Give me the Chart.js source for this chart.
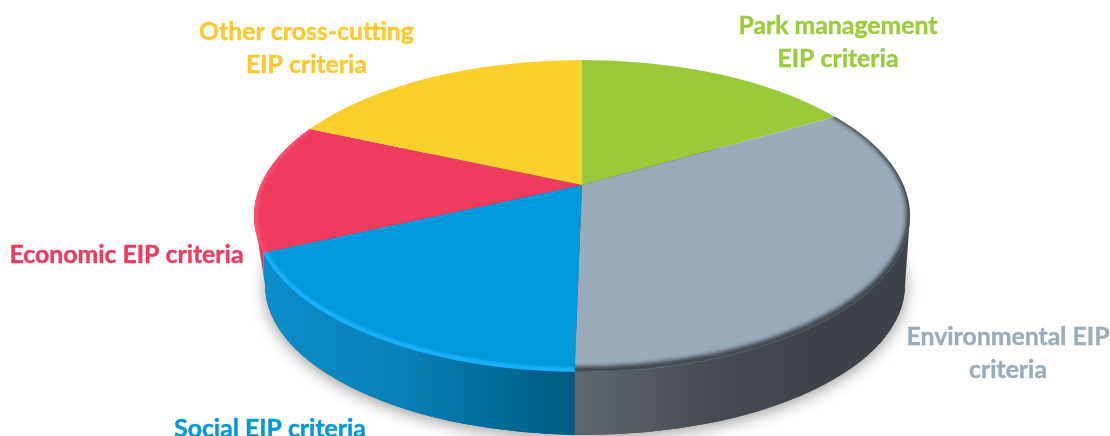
<!DOCTYPE html>
<html>
<head>
<meta charset="utf-8">
<style>
html, body { margin: 0; padding: 0; background: #fff; overflow: hidden; }
canvas { display: block; }
</style>
<script src="https://cdn.jsdelivr.net/npm/chart.js@4/dist/chart.umd.min.js"></script>
</head>
<body>
<canvas id="chart" width="1110" height="436"></canvas>
<script>
// clockwise from 12 o'clock
const categories = ["Park management EIP criteria", "Environmental EIP criteria", "Social EIP criteria", "Economic EIP criteria", "Other cross-cutting EIP criteria"];
const shares = [16.8, 33.5, 18, 13.2, 18.5];
const faceColors = ["#9aca3c", "#9aabba", "#0099dc", "#ef3b5d", "#fbd02c"];
const textColors = ["#9ccb3c", "#9bacbb", "#0098da", "#ee3a5c", "#fdc92f"];

// shape of the fake 3d disc
const apex = { x: 582, y: 185 };
const topDisc = { x: 582, y: 216, rx: 328, ry: 156 };
const lowDisc = { x: 585, y: 285, rx: 320, ry: 150 };
const tilt = topDisc.ry / topDisc.rx;

const sideStops = [
    [[0, "#7d9a3a"], [1, "#7d9a3a"]],
    [[0, "#5f666c"], [0.4, "#474d53"], [0.7, "#3e4349"], [1, "#3e4349"]],
    [[0, "#0b8fcb"], [0.45, "#0980b6"], [0.75, "#006b9a"], [1, "#005a80"]],
    [[0, "#d8395e"], [1, "#d8395e"]],
    [[0, "#c9a322"], [1, "#c9a322"]]
];
const rimStyles = [
    null,
    { color: "rgba(52,58,64,0.95)", width: 7, blur: 2, lift: 2 },
    { color: "#18b0f8", width: 7, blur: 1, lift: 1 },
    { color: "#ff4d73", width: 7, blur: 1.5, lift: 0 },
    null
];
const labelLines = [
    ["Park management", "EIP criteria"],
    ["Environmental EIP", "criteria"],
    ["Social EIP criteria"],
    ["Economic EIP criteria"],
    ["Other cross-cutting", "EIP criteria"]
];
const labelPlaces = [
    { x: 838, y: 34 },
    { x: 1008, y: 345 },
    { x: 270, y: 437 },
    { x: 126.5, y: 263 },
    { x: 306.5, y: 40 }
];
const lineGap = 33;

function ellipsePath(ctx, d) {
    ctx.beginPath();
    ctx.ellipse(d.x, d.y, d.rx, d.ry, 0, 0, Math.PI * 2);
}

// where a slice edge leaves the apex and hits the rim of the top disc
function rimPoint(angle) {
    const dx = Math.cos(angle), dy = Math.sin(angle) * tilt;
    const ox = apex.x - topDisc.x, oy = apex.y - topDisc.y;
    const a = dx * dx / topDisc.rx ** 2 + dy * dy / topDisc.ry ** 2;
    const b = 2 * (ox * dx / topDisc.rx ** 2 + oy * dy / topDisc.ry ** 2);
    const c = ox * ox / topDisc.rx ** 2 + oy * oy / topDisc.ry ** 2 - 1;
    const t = (-b + Math.sqrt(b * b - 4 * a * c)) / (2 * a);
    return { x: apex.x + t * dx, y: apex.y + t * dy };
}

function toDisc(ctx, arc) {
    const s = 2;
    ctx.translate(apex.x, apex.y);
    ctx.scale(s, s * tilt);
    ctx.translate(-arc.x, -arc.y);
}

const disc3d = {
    id: "disc3d",
    beforeDatasetsDraw(chart) {
        const ctx = chart.ctx;
        const arcs = chart.getDatasetMeta(0).data;

        // soft shadow under the disc
        ctx.save();
        ctx.shadowColor = "rgba(0,0,0,0.4)";
        ctx.shadowBlur = 16;
        ctx.shadowOffsetY = 3;
        ctx.fillStyle = "#555";
        ellipsePath(ctx, lowDisc);
        ctx.fill();
        ctx.restore();

        // side wall, one piece per slice that faces the front
        arcs.forEach((arc, i) => {
            const a = rimPoint(arc.startAngle), b = rimPoint(arc.endAngle);
            const aFront = a.y > topDisc.y, bFront = b.y > topDisc.y;
            if (!aFront && !bFront) return;
            const left = bFront ? b.x : topDisc.x - topDisc.rx - 2;
            const right = aFront ? a.x : topDisc.x + topDisc.rx + 2;
            const grad = ctx.createLinearGradient(left, 0, right, 0);
            sideStops[i].forEach(s => grad.addColorStop(s[0], s[1]));
            ctx.save();
            ctx.beginPath();
            ctx.rect(left, 0, right - left, 436);
            ctx.clip();
            ctx.fillStyle = grad;
            ellipsePath(ctx, lowDisc);
            ctx.fill();
            ctx.beginPath();
            ctx.moveTo(topDisc.x - topDisc.rx, topDisc.y);
            ctx.lineTo(topDisc.x + topDisc.rx, topDisc.y);
            ctx.lineTo(lowDisc.x + lowDisc.rx, lowDisc.y);
            ctx.lineTo(lowDisc.x - lowDisc.rx, lowDisc.y);
            ctx.closePath();
            ctx.fill();
            ctx.restore();
        });

        // the pie itself: clipped to the top disc, squashed about the apex
        ctx.save();
        ellipsePath(ctx, topDisc);
        ctx.clip();
        toDisc(ctx, arcs[0]);
    },
    afterDatasetsDraw(chart) {
        const ctx = chart.ctx;
        ctx.restore();
        const arcs = chart.getDatasetMeta(0).data;

        // bevel along the rim
        arcs.forEach((arc, i) => {
            const rim = rimStyles[i];
            if (!rim) return;
            ctx.save();
            ellipsePath(ctx, topDisc);
            ctx.clip();
            ctx.save();
            toDisc(ctx, arc);
            ctx.beginPath();
            ctx.moveTo(arc.x, arc.y);
            ctx.arc(arc.x, arc.y, arc.outerRadius, arc.startAngle, arc.endAngle);
            ctx.closePath();
            ctx.restore();
            ctx.clip();
            ctx.filter = "blur(" + rim.blur + "px)";
            ctx.strokeStyle = rim.color;
            ctx.lineWidth = rim.width;
            ellipsePath(ctx, { x: topDisc.x, y: topDisc.y - rim.lift, rx: topDisc.rx, ry: topDisc.ry });
            ctx.stroke();
            ctx.restore();
        });

        // labels
        ctx.save();
        ctx.font = "bold 24.8px Lato";
        ctx.textAlign = "center";
        ctx.textBaseline = "alphabetic";
        ctx.lineWidth = 0.4;
        labelLines.forEach((lines, i) => {
            ctx.fillStyle = textColors[i];
            ctx.strokeStyle = textColors[i];
            lines.forEach((line, j) => {
                ctx.fillText(line, labelPlaces[i].x, labelPlaces[i].y + j * lineGap);
                ctx.strokeText(line, labelPlaces[i].x, labelPlaces[i].y + j * lineGap);
            });
        });
        ctx.restore();
    }
};

new Chart(document.getElementById("chart"), {
    type: "pie",
    data: {
        labels: categories,
        datasets: [{
            data: shares,
            backgroundColor: faceColors,
            borderWidth: 0,
            clip: false
        }]
    },
    options: {
        responsive: false,
        animation: false,
        events: [],
        plugins: { legend: { display: false }, tooltip: { enabled: false } }
    },
    plugins: [disc3d]
});
</script>
</body>
</html>
